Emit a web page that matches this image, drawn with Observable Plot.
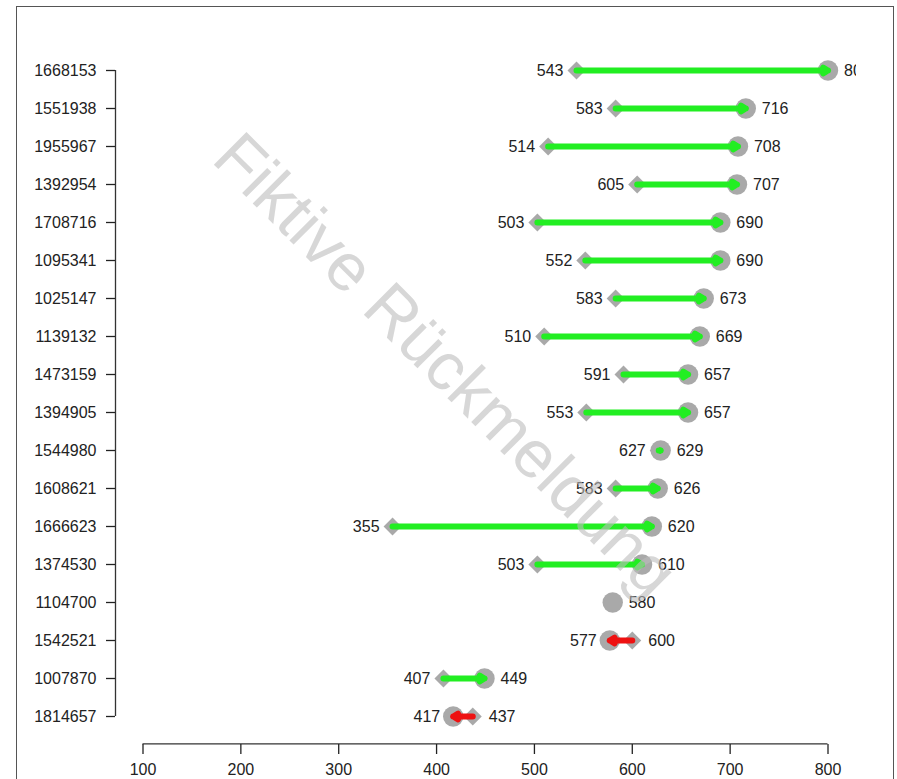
<!DOCTYPE html>
<html>
<head>
<meta charset="utf-8">
<script src="https://cdn.jsdelivr.net/npm/d3@7"></script>
<script src="https://cdn.jsdelivr.net/npm/@observablehq/plot@0.6"></script>
<style>
  html, body { margin: 0; padding: 0; background: #fff; overflow: hidden; }
  #wrap { position: relative; width: 897px; height: 779px; overflow: hidden; background: #fff;
          font-family: "Liberation Sans", Arial, Helvetica, sans-serif; }
  #box { position: absolute; left: 16px; top: 6px; width: 878px; height: 820px; box-sizing: border-box;
         border: 1.5px solid #555; pointer-events: none; }
</style>
</head>
<body>
<div id="wrap"></div>
<script>
// Student IDs (top to bottom)
const ids = ["1668153","1551938","1955967","1392954","1708716","1095341","1025147","1139132","1473159",
             "1394905","1544980","1608621","1666623","1374530","1104700","1542521","1007870","1814657"];
// first measurement (diamond)
const before = [543, 583, 514, 605, 503, 552, 583, 510, 591, 553, 627, 583, 355, 503, null, 600, 407, 437];
// second measurement (circle)
const after  = [800, 716, 708, 707, 690, 690, 673, 669, 657, 657, 629, 626, 620, 610, 580, 577, 449, 417];
const xTicks = [100, 200, 300, 400, 500, 600, 700, 800];
const watermark = "Fiktive Rückmeldung";

const rows = ids.map((id, i) => {
  const a = before[i], b = after[i];
  return {
    id, a, b,
    lo: a == null ? null : Math.min(a, b),
    hi: a == null ? b : Math.max(a, b),
    up: a == null ? true : b >= a
  };
});
const withBefore = rows.filter(d => d.a != null);
const firstId = ids[0], lastId = ids[ids.length - 1];

const font = "Liberation Sans, Arial, Helvetica, sans-serif";
const grey = "#a9a9a9";

const chart = Plot.plot({
  width: 897,
  height: 779,
  marginLeft: 115,
  marginRight: 41,
  marginTop: 20,
  marginBottom: 35,
  style: { fontFamily: font, background: "transparent" },
  x: { domain: [100, 800], range: [142.5, 827.5] },
  y: { type: "point", domain: ids, range: [69.3, 716.7], padding: 0 },
  marks: [
    // axes
    Plot.ruleX([100], { y1: () => firstId, y2: () => lastId, dx: -27.5, stroke: "#333", strokeWidth: 1.3 }),
    Plot.axisY({ anchor: "left", tickSize: 9, tickPadding: 10, fontSize: 16, label: null, color: "#222", strokeWidth: 1.3 }),
    Plot.ruleY([lastId], { x1: xTicks[0], x2: xTicks[xTicks.length - 1], dy: 27.3, stroke: "#333", strokeWidth: 1.3 }),
    Plot.axisX({ anchor: "bottom", ticks: xTicks, tickFormat: d => String(d), tickSize: 10, tickPadding: 9,
                 fontSize: 16, label: null, color: "#222", strokeWidth: 1.3 }),
    // markers
    Plot.dot(withBefore, { x: "a", y: "id", symbol: "diamond2", r: 8.1, fill: grey, stroke: "none" }),
    Plot.dot(rows, { x: "b", y: "id", symbol: "circle", r: 10.2, fill: grey, stroke: "none" }),
    // arrows
    Plot.arrow(withBefore, {
      x1: "a", x2: "b", y1: "id", y2: "id",
      stroke: d => d.up ? "#22ee22" : "#ee1111",
      strokeWidth: 6, headLength: 1.4, headAngle: 60, strokeLinecap: "round", strokeLinejoin: "round"
    }),
    // value labels
    Plot.text(withBefore, { x: "lo", y: "id", text: d => String(d.lo), textAnchor: "end", dx: -13,
                            fontSize: 16, fill: "#222" }),
    Plot.text(rows, { x: "hi", y: "id", text: d => String(d.hi), textAnchor: "start", dx: 16,
                      fontSize: 16, fill: "#222", clip: true }),
    // watermark
    Plot.text([watermark], { text: d => d, frameAnchor: "middle", dx: -41, dy: -17, rotate: 45,
                             fontSize: 67, fill: "#bdbdbd", fillOpacity: 0.6 })
  ]
});
chart.style.color = "#222";
const wrap = document.getElementById("wrap");
wrap.appendChild(chart);
const box = document.createElement("div");
box.id = "box";
wrap.appendChild(box);
</script>
</body>
</html>
